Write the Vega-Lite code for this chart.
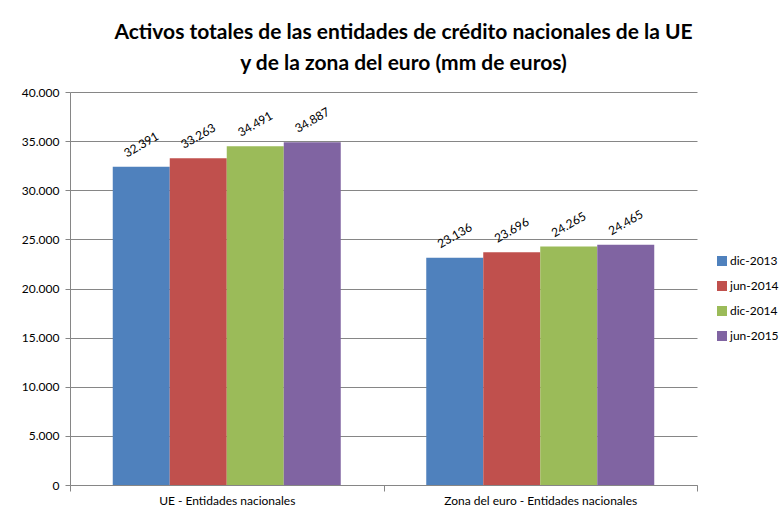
{
  "$schema": "https://vega.github.io/schema/vega-lite/v6.json",
  "width": 627,
  "height": 393,
  "autosize": {"type": "none"},
  "padding": {"left": 70, "top": 92, "right": 86, "bottom": 25},
  "background": "white",
  "title": {
    "text": ["Activos totales de las entidades de crédito nacionales de la UE", "y de la zona del euro (mm de euros)"],
    "font": "Lato",
    "fontSize": 21,
    "fontWeight": "bold",
    "color": "#000000",
    "anchor": "middle",
    "offset": 12,
    "lineHeight": 31,
    "dx": 20
  },
  "data": {
    "values": [
      {"categoria": "UE - Entidades nacionales", "periodo": "dic-2013", "valor": 32391},
      {"categoria": "UE - Entidades nacionales", "periodo": "jun-2014", "valor": 33263},
      {"categoria": "UE - Entidades nacionales", "periodo": "dic-2014", "valor": 34491},
      {"categoria": "UE - Entidades nacionales", "periodo": "jun-2015", "valor": 34887},
      {"categoria": "Zona del euro - Entidades nacionales", "periodo": "dic-2013", "valor": 23136},
      {"categoria": "Zona del euro - Entidades nacionales", "periodo": "jun-2014", "valor": 23696},
      {"categoria": "Zona del euro - Entidades nacionales", "periodo": "dic-2014", "valor": 24265},
      {"categoria": "Zona del euro - Entidades nacionales", "periodo": "jun-2015", "valor": 24465}
    ]
  },
  "encoding": {
    "x": {
      "field": "categoria",
      "type": "nominal",
      "sort": ["UE - Entidades nacionales", "Zona del euro - Entidades nacionales"],
      "scale": {"paddingInner": 0, "paddingOuter": 0},
      "axis": {
        "title": null,
        "labelAngle": 0,
        "labelLimit": 0,
        "labelFont": "Lato",
        "labelFontSize": 12,
        "labelColor": "#000000",
        "labelPadding": 4,
        "domainColor": "#868686",
        "tickColor": "#868686",
        "tickSize": 6,
        "ticks": true,
        "tickBand": "extent"
      }
    },
    "xOffset": {
      "field": "periodo",
      "type": "nominal",
      "sort": ["dic-2013", "jun-2014", "dic-2014", "jun-2015"],
      "scale": {"paddingInner": 0, "paddingOuter": 0.75}
    },
    "y": {
      "field": "valor",
      "type": "quantitative",
      "scale": {"domain": [0, 40000], "nice": false},
      "axis": {
        "title": null,
        "values": [0, 5000, 10000, 15000, 20000, 25000, 30000, 35000, 40000],
        "labelExpr": "replace(format(datum.value, ','), ',', '.')",
        "labelFont": "Lato",
        "labelFontSize": 12,
        "labelColor": "#000000",
        "labelPadding": 6,
        "grid": true,
        "gridColor": "#868686",
        "gridWidth": 1,
        "domainColor": "#868686",
        "tickColor": "#868686",
        "tickSize": 5
      }
    }
  },
  "layer": [
    {
      "mark": {"type": "bar"},
      "encoding": {
        "color": {
          "field": "periodo",
          "type": "nominal",
          "sort": ["dic-2013", "jun-2014", "dic-2014", "jun-2015"],
          "scale": {
            "domain": ["dic-2013", "jun-2014", "dic-2014", "jun-2015"],
            "range": ["#4F81BD", "#C0504D", "#9BBB59", "#8064A2"]
          },
          "legend": {
            "title": null,
            "orient": "none",
            "legendX": 646,
            "legendY": 163,
            "symbolType": "square",
            "symbolSize": 100,
            "symbolStrokeWidth": 0,
            "labelFont": "Lato",
            "labelFontSize": 12,
            "labelColor": "#000000",
            "labelOffset": 2,
            "rowPadding": 13
          }
        }
      }
    },
    {
      "mark": {
        "type": "text",
        "angle": -30,
        "align": "center",
        "baseline": "middle",
        "yOffset": -22,
        "xOffset": 2,
        "font": "Lato",
        "fontSize": 12,
        "color": "#000000"
      },
      "encoding": {
        "text": {"field": "valor", "type": "quantitative", "format": ",d", "formatType": "number"}
      }
    }
  ],
  "config": {
    "view": {"stroke": null},
    "locale": {"number": {"decimal": ",", "thousands": ".", "grouping": [3], "currency": ["", " €"]}}
  }
}
